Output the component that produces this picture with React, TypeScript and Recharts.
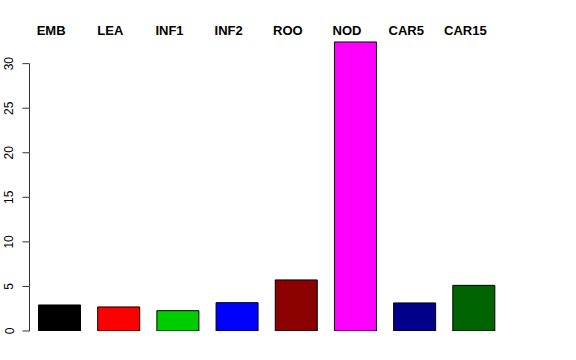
import React from "react"
import { BarChart, Bar, XAxis, YAxis, Cell } from "recharts"

const tissues = ["EMB", "LEA", "INF1", "INF2", "ROO", "NOD", "CAR5", "CAR15"]
const values = [2.92, 2.7, 2.28, 3.18, 5.73, 32.43, 3.15, 5.12]
const colors = ["#000000", "#FF0000", "#00CD00", "#0000FF", "#8B0000", "#FF00FF", "#00008B", "#006400"]
const yTicks = [0, 5, 10, 15, 20, 25, 30]

const W = 576
const H = 360
const TOP = 28
const BOTTOM = 29
const YMAX = 34
const data = tissues.map((name, i) => ({ name, value: values[i] }))
const font = "'Liberation Sans', Arial, Helvetica, sans-serif"

const pxPerUnit = (H - TOP - BOTTOM) / YMAX

function LeftTick(props: any) {
  const { x, y, payload } = props
  const v = payload.value
  return (
    <g>
      <line x1={x - 7} y1={y} x2={x} y2={y} stroke="#333" strokeWidth={1} />
      {v < 30 && <line x1={x} y1={y} x2={x} y2={y - 5 * pxPerUnit} stroke="#333" strokeWidth={1} />}
      <text x={x - 16} y={y} transform={`rotate(-90 ${x - 16} ${y})`} textAnchor="middle"
        fontFamily={font} fontSize={12} fill="#000">{v}</text>
    </g>
  )
}

function TopTick(props: any) {
  const { x, y, payload } = props
  return (
    <text x={x - 8} y={y} dy={7} textAnchor="middle" fontFamily={font} fontSize={13} fontWeight="bold" fill="#000">
      {payload.value}
    </text>
  )
}

export default function App() {
  return (
    <div style={{ position: "absolute", left: 0, top: 0, background: "#fff" }}>
      <BarChart width={W} height={H} data={data} margin={{ top: 0, right: 73, left: 0, bottom: BOTTOM }} barSize={42}>
        <XAxis dataKey="name" orientation="top" height={TOP} axisLine={false} tickLine={false}
          tickSize={0} tickMargin={0} tick={<TopTick />} interval={0} />
        <YAxis domain={[0, YMAX]} ticks={yTicks} width={29.5} axisLine={false} tickLine={false}
          tickSize={0} tickMargin={0} tick={<LeftTick />} allowDataOverflow />
        <Bar dataKey="value" stroke="#000" strokeWidth={1} isAnimationActive={false}>
          {data.map((d, i) => (
            <Cell key={d.name} fill={colors[i]} />
          ))}
        </Bar>
      </BarChart>
    </div>
  )
}
